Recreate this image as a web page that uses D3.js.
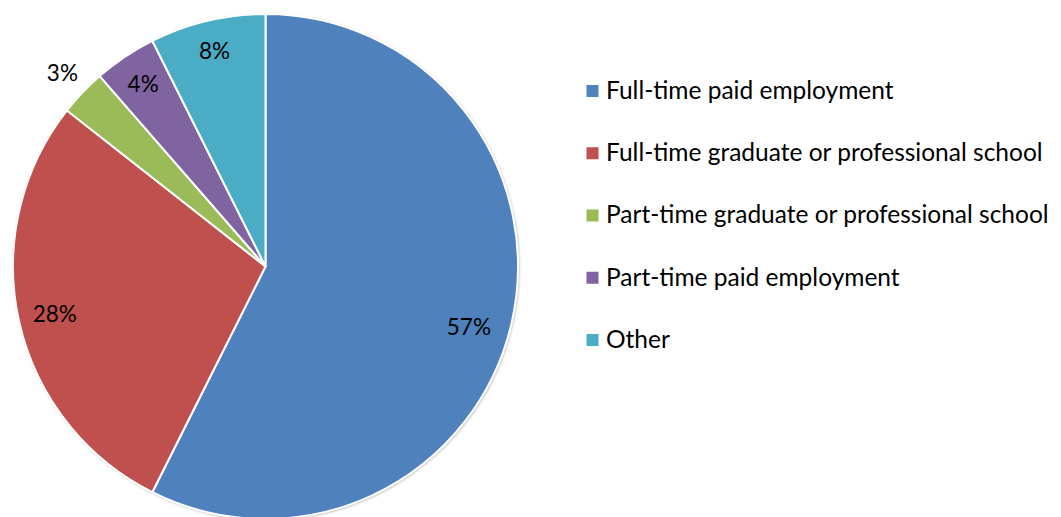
<!DOCTYPE html>
<html><head><meta charset="utf-8">
<script src="https://cdn.jsdelivr.net/npm/d3@7"></script>
<style>body{margin:0;background:#fff}svg{display:block}</style>
</head><body>
<svg id="c" width="1061" height="517"></svg>
<script>
const categories = ["Full-time paid employment","Full-time graduate or professional school","Part-time graduate or professional school","Part-time paid employment","Other"];
const values = [57.4, 28.2, 3.0, 4.0, 7.4];
const labels = ["57%","28%","3%","4%","8%"];
const colors = ["#4F81BD","#C0504D","#9BBB59","#8064A2","#4BACC6"];

const svg = d3.select("#c");
const cx = 265.5, cy = 266.5, R = 252.5;
const font = "Lato, 'Open Sans', sans-serif";

const defs = svg.append("defs");
const f = defs.append("filter").attr("id","sh").attr("x","-10%").attr("y","-10%").attr("width","120%").attr("height","120%");
f.append("feGaussianBlur").attr("in","SourceAlpha").attr("stdDeviation",1.5);
f.append("feOffset").attr("dx",0.5).attr("dy",1).attr("result","b");
f.append("feComponentTransfer").append("feFuncA").attr("type","linear").attr("slope",0.35);
const m = f.append("feMerge"); m.append("feMergeNode"); m.append("feMergeNode").attr("in","SourceGraphic");

const pie = d3.pie().sort(null).value(d=>d);
const arcs = pie(values);
const arc = d3.arc().innerRadius(0).outerRadius(R);
const g = svg.append("g").attr("transform",`translate(${cx},${cy})`);
g.append("circle").attr("r",R).attr("fill","#fff").attr("filter","url(#sh)");
g.selectAll("path").data(arcs).join("path")
  .attr("d",arc).attr("fill",(d,i)=>colors[i])
  .attr("stroke","#fff").attr("stroke-width",2).attr("stroke-linejoin","round");

// label placement: radius fraction and small angular nudge (degrees) per slice
const labelR = [0.84, 0.855, 1.11, 0.87, 0.877];
const labelNudge = [3.2, 0, 0, 0, 0];
g.selectAll("text.lbl").data(arcs).join("text").attr("class","lbl")
  .attr("transform",(d,i)=>{const a=(d.startAngle+d.endAngle)/2 + labelNudge[i]*Math.PI/180; const r=R*labelR[i]; return `translate(${Math.sin(a)*r},${-Math.cos(a)*r})`;})
  .attr("text-anchor","middle").attr("dy","0.36em")
  .attr("font-family",font).attr("font-size",22.5).attr("fill","#000")
  .text((d,i)=>labels[i]);

// legend
const ly = d3.scalePoint().domain(categories).range([91,340]);
const lg = svg.append("g");
lg.selectAll("rect").data(categories).join("rect")
  .attr("x",586.5).attr("y",d=>ly(d)-6).attr("width",12).attr("height",12)
  .attr("fill",(d,i)=>colors[i]);
lg.selectAll("text").data(categories).join("text")
  .attr("x",606).attr("y",d=>ly(d)).attr("dy","0.32em")
  .attr("font-family",font).attr("font-size",24.5).attr("fill","#000")
  .text(d=>d);
</script>
</body></html>
